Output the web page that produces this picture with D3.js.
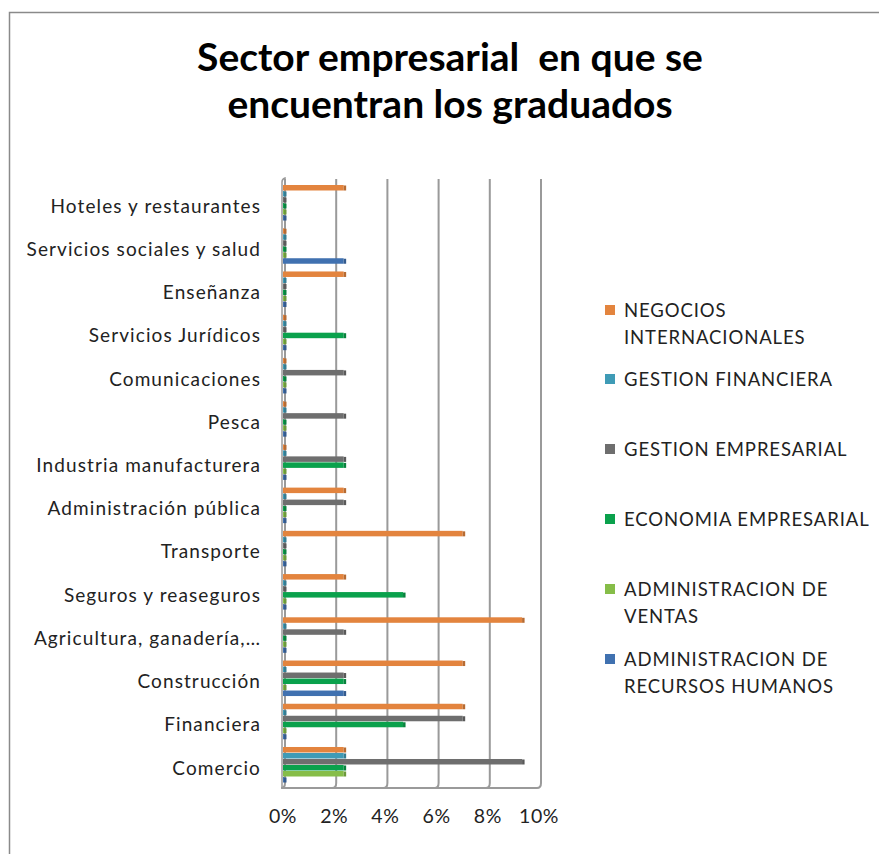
<!DOCTYPE html>
<head>
<meta charset="utf-8">
<title>Sector empresarial</title>
<style>
    body { margin: 0; background: #fff; }
    text { font-family: Lato, "Open Sans", sans-serif; fill: #222; }
    .title { font-size: 39px; font-weight: bold; fill: #000; white-space: pre; }
    .cat { font-size: 19px; letter-spacing: 1.1px; }
    .tick { font-size: 19.5px; letter-spacing: 0.6px; }
    .leg { font-size: 18.5px; letter-spacing: 0.9px; }
</style>
</head>
<body>
<script src="https://d3js.org/d3.v7.min.js"></script>
<script>
    // categories top to bottom
    const CATEGORIES = ["Hoteles y restaurantes", "Servicios sociales y salud", "Enseñanza",
        "Servicios Jurídicos", "Comunicaciones", "Pesca", "Industria manufacturera",
        "Administración pública", "Transporte", "Seguros y reaseguros ",
        "Agricultura, ganadería,…", "Construcción", "Financiera", "Comercio"];

    const SERIES = ["NEGOCIOS INTERNACIONALES", "GESTION FINANCIERA", "GESTION EMPRESARIAL",
        "ECONOMIA EMPRESARIAL", "ADMINISTRACION DE VENTAS", "ADMINISTRACION DE RECURSOS HUMANOS"];

    const COLORS = ["#E3843E", "#3F9BB6", "#6E6E6E", "#0AA14C", "#86BD48", "#4071B0"];

    // percent of graduates, same order as CATEGORIES
    const NEGOCIOS  = [2.33, 0, 2.33, 0, 0, 0, 0, 2.33, 6.98, 2.33, 9.30, 6.98, 6.98, 2.33];
    const FINANCIERA = [0, 0, 0, 0, 0, 0, 0, 0, 0, 0, 0, 0, 0, 2.33];
    const EMPRESARIAL = [0, 0, 0, 0, 2.33, 2.33, 2.33, 2.33, 0, 0, 2.33, 2.33, 6.98, 9.30];
    const ECONOMIA = [0, 0, 0, 2.33, 0, 0, 2.33, 0, 0, 4.65, 0, 2.33, 4.65, 2.33];
    const VENTAS = [0, 0, 0, 0, 0, 0, 0, 0, 0, 0, 0, 0, 0, 2.33];
    const RRHH = [0, 2.33, 0, 0, 0, 0, 0, 0, 0, 0, 0, 2.33, 0, 0];

    const TICKS = [0, 2, 4, 6, 8, 10];

    const VALUES = [NEGOCIOS, FINANCIERA, EMPRESARIAL, ECONOMIA, VENTAS, RRHH];
    const LEGEND_LINES = [["NEGOCIOS", "INTERNACIONALES"], ["GESTION FINANCIERA"], ["GESTION EMPRESARIAL"],
        ["ECONOMIA EMPRESARIAL"], ["ADMINISTRACION DE", "VENTAS"], ["ADMINISTRACION DE", "RECURSOS HUMANOS"]];
    const LEGEND_Y = [310, 379, 449, 519, 589, 659];

    const svg = d3.select("body").append("svg")
        .attr("width", 879).attr("height", 854);

    // chart frame
    svg.append("rect")
        .attr("x", 9.5).attr("y", 12.5).attr("width", 880).attr("height", 860)
        .attr("fill", "none").attr("stroke", "#8a8a8a").attr("stroke-width", 1.5);

    svg.append("text").attr("class", "title").attr("text-anchor", "middle")
        .attr("x", 450).attr("y", 71).text("Sector empresarial  en que se");
    svg.append("text").attr("class", "title").attr("text-anchor", "middle")
        .attr("x", 450).attr("y", 118).text("encuentran los graduados");

    const x = d3.scaleLinear().domain([0, 10]).range([285, 541]);
    const y0 = d3.scaleBand().domain(CATEGORIES).range([185, 783]).paddingInner(0.167).paddingOuter(0);
    const y1 = d3.scaleBand().domain(SERIES).range([0, y0.bandwidth()]);

    const wallTop = 179, wallBack = 783, wallFront = 788;

    // back wall gridlines with floor edge
    svg.append("g").selectAll("path")
        .data(TICKS)
        .join("path")
        .attr("d", t => `M${x(t)},${wallTop} L${x(t)},${wallBack} Q${x(t)},${wallFront} ${x(t) - 4},${wallFront}`)
        .attr("fill", "none").attr("stroke", "#9a9a9a").attr("stroke-width", 2);

    // left wall
    svg.append("path")
        .attr("d", `M${x(0) - 3},${wallTop + 3} Q${x(0) - 3},${wallTop} ${x(0)},${wallTop - 1} L${x(0)},${wallBack}`)
        .attr("fill", "none").attr("stroke", "#9a9a9a").attr("stroke-width", 1.5);
    svg.append("line")
        .attr("x1", x(0) - 3).attr("x2", x(0) - 3).attr("y1", wallTop + 3).attr("y2", wallFront)
        .attr("stroke", "#9a9a9a").attr("stroke-width", 1.5);
    // floor front edge
    svg.append("line")
        .attr("x1", x(0) - 3).attr("x2", x(10) - 4).attr("y1", wallFront).attr("y2", wallFront)
        .attr("stroke", "#9a9a9a").attr("stroke-width", 2);

    // bars
    const rows = [];
    CATEGORIES.forEach((c, i) => SERIES.forEach((s, j) => rows.push({c, s, j, v: VALUES[j][i]})));

    const bar = svg.append("g").selectAll("g")
        .data(rows)
        .join("g")
        .attr("transform", d => `translate(0,${y0(d.c) + y1(d.s)})`);

    bar.append("rect")
        .attr("x", x(0) - 2)
        .attr("width", d => x(d.v) - x(0) + 1)
        .attr("height", y1.bandwidth() - 0.5)
        .attr("fill", d => COLORS[d.j]);
    bar.append("rect")
        .attr("x", d => x(d.v) - 1)
        .attr("width", 2.5)
        .attr("y", 0.5)
        .attr("height", y1.bandwidth() - 1)
        .attr("fill", d => d3.color(COLORS[d.j]).darker(0.6));

    // category labels
    svg.append("g").selectAll("text")
        .data(CATEGORIES)
        .join("text")
        .attr("class", "cat")
        .attr("text-anchor", "end")
        .attr("dominant-baseline", "central")
        .attr("x", 261)
        .attr("y", c => y0(c) + y0.step() / 2 - 1.5)
        .text(c => c);

    // x tick labels
    svg.append("g").selectAll("text")
        .data(TICKS)
        .join("text")
        .attr("class", "tick")
        .attr("text-anchor", "middle")
        .attr("x", t => x(t) - 2)
        .attr("y", 823)
        .text(t => t + "%");

    // legend
    const leg = svg.append("g").selectAll("g")
        .data(SERIES)
        .join("g")
        .attr("transform", (s, i) => `translate(605,${LEGEND_Y[i]})`);
    leg.append("rect")
        .attr("x", 0).attr("y", -5).attr("width", 10).attr("height", 10)
        .attr("fill", (s, i) => COLORS[i]);
    leg.each(function (s, i) {
        d3.select(this).selectAll("text")
            .data(LEGEND_LINES[i])
            .join("text")
            .attr("class", "leg")
            .attr("x", 19)
            .attr("y", (l, k) => k * 27)
            .attr("dominant-baseline", "central")
            .text(l => l);
    });
</script>
</body>
